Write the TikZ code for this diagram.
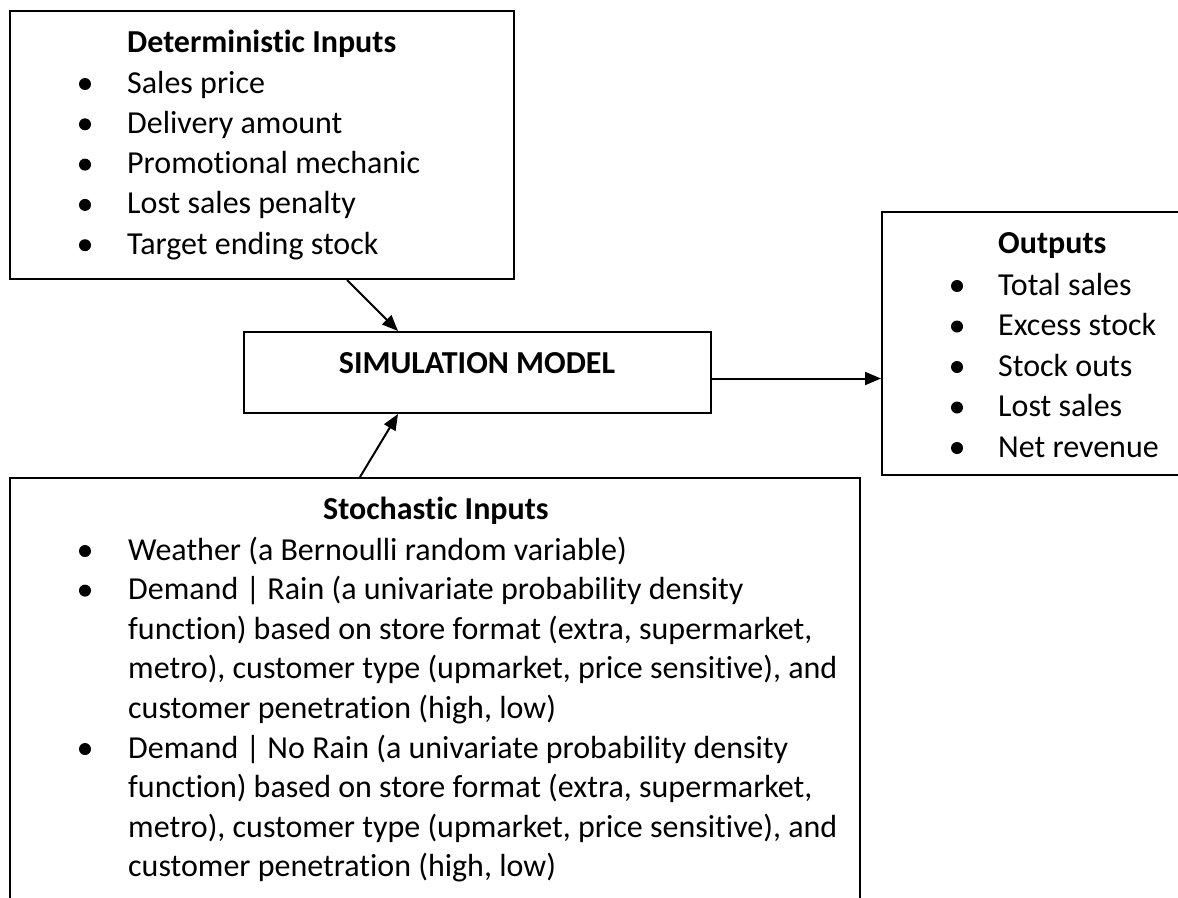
\documentclass[tikz,border=0pt]{standalone}
\usepackage{fontspec}
\setmainfont{Carlito}[Ligatures=NoCommon]
\usetikzlibrary{arrows.meta}
\begin{document}
\begin{tikzpicture}[x=1pt,y=-1pt,
  box/.style={draw, line width=2pt, inner sep=0pt, rectangle},
  txt/.style={anchor=base west, inner sep=0pt, font=\fontsize{32}{38}\selectfont},
  hd/.style={anchor=base west, inner sep=0pt, font=\fontsize{32}{38}\selectfont\bfseries},
  arr/.style={-{Triangle[length=16pt,width=13pt]}, line width=2pt},
  bul/.style={fill=black}]
\clip (0,0) rectangle (1178,897);
\fill[white] (0,0) rectangle (1178,897);
% boxes
\node[box, minimum width=504pt, minimum height=268pt] (det) at (262,145) {};
\node[box, minimum width=467pt, minimum height=81pt] (sim) at (477.5,372.5) {};
\node[box, minimum width=308pt, minimum height=263pt] (out) at (1036,343.5) {};
\node[box, minimum width=850pt, minimum height=442pt] (sto) at (435,699) {};
% arrows
\draw[arr] ([xshift=338pt]det.south west) -- ([xshift=155pt]sim.north west);
\draw[arr] ([xshift=351pt]sto.north west) -- ([xshift=155pt]sim.south west);
\draw[arr] ([yshift=-6pt]sim.east) -- ([yshift=-6pt]sim.east -| out.west);
% deterministic
\node[hd] (dt) at (127,52) {Deterministic Inputs};
\foreach \t [count=\i] in {Sales price, Delivery amount, Promotional mechanic, Lost sales penalty, Target ending stock}{
  \node[txt] (d\i) at (127,{93+40.3*(\i-1)}) {\t};
  \fill[bul] (85,{84+40.3*(\i-1)}) circle (6);
}
% simulation
\node[hd, anchor=base] (st) at (477,373) {SIMULATION MODEL};
% outputs
\node[hd] (ot) at (998,253) {Outputs};
\foreach \t [count=\i] in {Total sales, Excess stock, Stock outs, Lost sales, Net revenue}{
  \node[txt] (o\i) at (998,{295+40.5*(\i-1)}) {\t};
  \fill[bul] (957,{286+40.5*(\i-1)}) circle (6);
}
% stochastic
\node[hd] (sh) at (323,519) {Stochastic Inputs};
\foreach \t [count=\i] in {{Weather (a Bernoulli random variable)},
  {Demand | Rain (a univariate probability density},
  {function) based on store format (extra, supermarket,},
  {metro), customer type (upmarket, price sensitive), and},
  {customer penetration (high, low)},
  {Demand | No Rain (a univariate probability density},
  {function) based on store format (extra, supermarket,},
  {metro), customer type (upmarket, price sensitive), and},
  {customer penetration (high, low)}}{
  \node[txt] (s\i) at (128,{560+39.6*(\i-1)}) {\t};
}
\foreach \j in {0,1,5}{
  \fill[bul] (85,{551+39.6*\j}) circle (6);
}
\end{tikzpicture}
\end{document}
